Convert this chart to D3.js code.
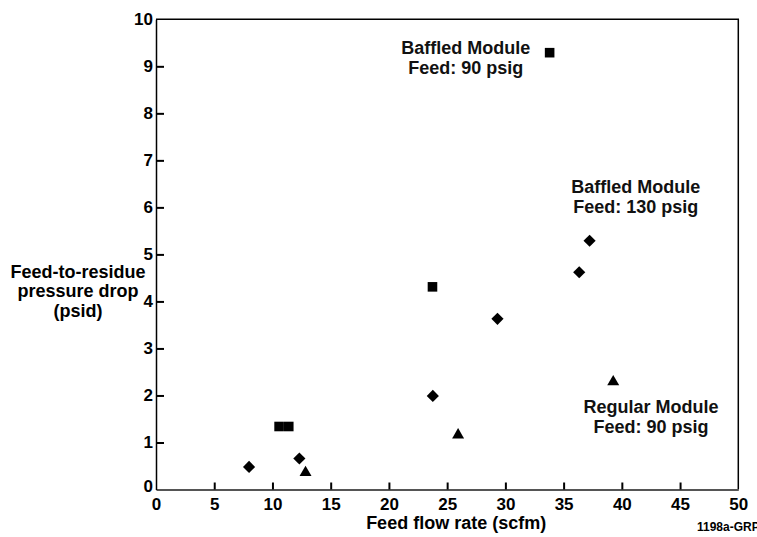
<!DOCTYPE html>
<html>
<head>
<meta charset="utf-8">
<script src="https://cdn.jsdelivr.net/npm/d3@7"></script>
<style>
  body { margin: 0; background: #fff; overflow: hidden; }
  svg { display: block; font-family: "Liberation Sans", Arial, sans-serif; font-weight: bold; }
</style>
</head>
<body>
<div id="chart"></div>
<script>
// ===== DATA =====
const xTicks = [0, 5, 10, 15, 20, 25, 30, 35, 40, 45, 50];
const yTicks = [0, 1, 2, 3, 4, 5, 6, 7, 8, 9, 10];

// Baffled module, feed 90 psig (squares)
const baffled90X = [10.57, 11.4, 23.74, 33.8];
const baffled90Y = [1.34, 1.34, 4.31, 9.29];

// Baffled module, feed 130 psig (diamonds)
const baffled130X = [7.99, 12.31, 23.77, 29.32, 36.34, 37.23];
const baffled130Y = [0.48, 0.66, 1.99, 3.63, 4.62, 5.29];

// Regular module, feed 90 psig (triangles)
const regular90X = [12.84, 25.94, 39.26];
const regular90Y = [0.36, 1.16, 2.29];

// annotation anchors, in data units (centre x, first baseline y)
const seriesLabels = [
    { lines: ["Baffled Module", "Feed: 90 psig"], x: 26.6, y: 9.26 },
    { lines: ["Baffled Module", "Feed: 130 psig"], x: 41.2, y: 6.31 },
    { lines: ["Regular Module", "Feed: 90 psig"], x: 42.5, y: 1.63 }
];

const width = 757, height = 537;
const margin = { top: 19.3, right: 18.7, bottom: 47.5, left: 156 };
const tickFs = 17, labelFs = 18;

const svg = d3.select('#chart').append('svg')
    .attr('width', width)
    .attr('height', height);

const x = d3.scaleLinear().domain([0, 50]).range([margin.left, width - margin.right]);
const y = d3.scaleLinear().domain([0, 10]).range([height - margin.bottom, margin.top]);

// frame (top + right)
svg.append('path')
    .attr('d', `M${x(0)},${y(10)}H${x(50)}V${y(0)}`)
    .attr('fill', 'none')
    .attr('stroke', '#000')
    .attr('stroke-width', 1.5);

// x axis
const xAxis = svg.append('g')
    .attr('transform', `translate(0,${y(0)})`)
    .call(d3.axisBottom(x).tickValues(xTicks).tickSizeInner(-7).tickSizeOuter(0).tickPadding(8.5));
xAxis.select('.domain').attr('stroke', '#555').attr('stroke-width', 2);
xAxis.selectAll('.tick line').attr('stroke', '#000').attr('stroke-width', 2)
    .filter(d => d === 0 || d === 50).remove();
xAxis.selectAll('.tick text')
    .attr('font-size', tickFs).attr('font-family', null).attr('fill', '#000');

// y axis
const yAxis = svg.append('g')
    .attr('transform', `translate(${x(0)},0)`)
    .call(d3.axisLeft(y).tickValues(yTicks).tickSizeInner(-8).tickSizeOuter(0).tickPadding(3));
yAxis.select('.domain').attr('stroke', '#000').attr('stroke-width', 1.5);
yAxis.selectAll('.tick line').attr('stroke', '#000').attr('stroke-width', 2)
    .filter(d => d === 0 || d === 10).remove();
yAxis.selectAll('.tick text')
    .attr('font-size', tickFs).attr('font-family', null).attr('fill', '#000');
// the "0" on the y axis sits a little above the corner
yAxis.selectAll('.tick text').filter(d => d === 0).attr('y', -3);
svg.selectAll('.tick text').attr('font-weight', 'bold');

// axis titles
svg.append('text')
    .attr('x', (x(0) + x(50)) / 2 + 9).attr('y', 528.5)
    .attr('text-anchor', 'middle')
    .attr('font-size', labelFs)
    .text('Feed flow rate (scfm)');

const yTitle = ["Feed-to-residue", "pressure drop", "(psid)"];
svg.append('g').selectAll('text')
    .data(yTitle)
    .enter().append('text')
    .attr('x', 78)
    .attr('y', (d, i) => 277.5 + i * 19.5)
    .attr('text-anchor', 'middle')
    .attr('font-size', labelFs)
    .text(d => d);

// figure id, runs off the right edge as in the original
svg.append('text')
    .attr('x', 697).attr('y', 531)
    .attr('font-size', 12)
    .text('1198a-GRP');

// markers
function pts(xs, ys) { return xs.map((v, i) => ({ x: v, y: ys[i] })); }

svg.append('g').selectAll('path')
    .data(pts(baffled90X, baffled90Y))
    .enter().append('path')
    .attr('d', d3.symbol(d3.symbolSquare, 92))
    .attr('transform', d => `translate(${x(d.x)},${y(d.y)})`)
    .attr('fill', '#000');

svg.append('g').selectAll('path')
    .data(pts(baffled130X, baffled130Y))
    .enter().append('path')
    .attr('d', d3.symbol(d3.symbolSquare, 74))
    .attr('transform', d => `translate(${x(d.x)},${y(d.y)}) rotate(45)`)
    .attr('fill', '#000');

svg.append('g').selectAll('path')
    .data(pts(regular90X, regular90Y))
    .enter().append('path')
    .attr('d', d3.symbol(d3.symbolTriangle, 62))
    .attr('transform', d => `translate(${x(d.x)},${y(d.y)})`)
    .attr('fill', '#000');

// series labels
seriesLabels.forEach(s => {
    svg.append('g').selectAll('text')
        .data(s.lines)
        .enter().append('text')
        .attr('x', x(s.x))
        .attr('y', (d, i) => y(s.y) + i * 20)
        .attr('text-anchor', 'middle')
        .attr('font-size', labelFs)
        .attr('fill', '#111')
        .text(d => d);
});
</script>
</body>
</html>
